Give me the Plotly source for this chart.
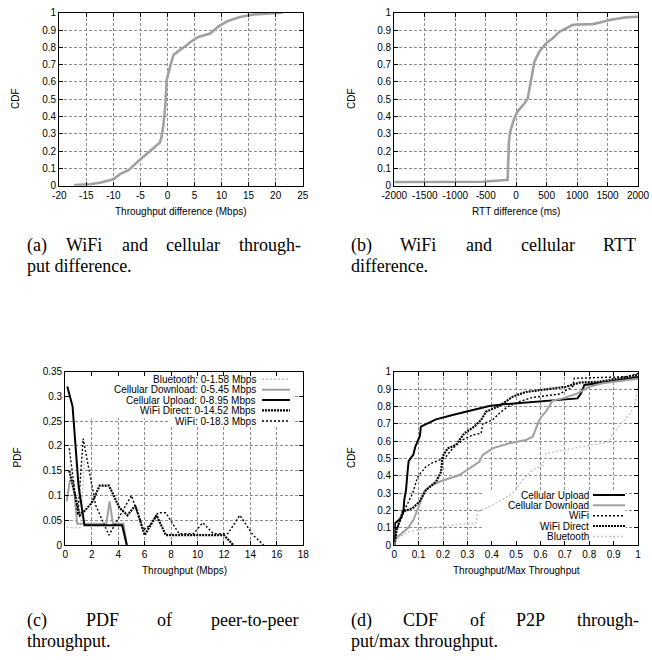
import plotly.graph_objects as go

# ---------------- data ----------------
# (a) WiFi - cellular throughput difference CDF
a_x = [-17.3, -14.3, -12.5, -10.0, -8.8, -7.2, -5.1, -3.2, -1.4, -1.1, -0.8, -0.4, -0.15, 0.5, 1.1, 2.3, 3.5, 4.2, 5.7, 7.9, 9.4, 11.0, 13.4, 15.9, 18.3, 21.3]
a_y = [0.004, 0.008, 0.017, 0.037, 0.067, 0.09, 0.15, 0.2, 0.25, 0.28, 0.34, 0.46, 0.61, 0.69, 0.755, 0.785, 0.81, 0.83, 0.86, 0.88, 0.92, 0.95, 0.975, 0.99, 0.995, 1.0]
a_ticks = [-20, -15, -10, -5, 0, 5, 10, 15, 20, 25]
a_ticktext = ["-20", "-15", "-10", "-5", "0", "5", "10", "15", "20", "25"]

# (b) WiFi - cellular RTT difference CDF
b_x = [-2000, -550, -167, -140, -120, -100, -30, 25, 135, 190, 245, 300, 380, 490, 600, 710, 930, 1255, 1365, 1530, 1800, 2000]
b_y = [0.021, 0.023, 0.033, 0.033, 0.245, 0.31, 0.39, 0.43, 0.475, 0.505, 0.61, 0.717, 0.775, 0.823, 0.852, 0.89, 0.93, 0.934, 0.942, 0.958, 0.973, 0.977]
b_ticks = [-2000, -1500, -1000, -500, 0, 500, 1000, 1500, 2000]
b_ticktext = ["-2000", "-1500", "-1000", "-500", "0", "500", "1000", "1500", "2000"]

# (c) PDF of peer-to-peer throughput
c_bt_x = [0.1, 0.45, 0.8, 1.15, 1.45]
c_bt_y = [0.035, 0.035, 0.035, 0.035, 0.17]
c_cd_x = [0.1, 0.35, 0.6, 0.9, 1.2, 3.1, 3.35, 3.6, 4.4, 4.65]
c_cd_y = [0.088, 0.13, 0.13, 0.043, 0.043, 0.043, 0.088, 0.043, 0.043, 0.0]
c_cu_x = [0.15, 0.55, 1.0, 1.45, 4.3, 4.65]
c_cu_y = [0.32, 0.28, 0.12, 0.04, 0.04, 0.0]
c_wd_x = [0.3, 1.1, 1.5, 2.0, 2.6, 3.3, 4.1, 4.7, 5.3, 6.0, 6.9, 7.6, 12.0, 12.7]
c_wd_y = [0.15, 0.06, 0.07, 0.085, 0.12, 0.12, 0.075, 0.06, 0.08, 0.02, 0.06, 0.02, 0.02, 0.0]
c_wf_x = [0.3, 0.95, 1.35, 2.3, 3.3, 5.0, 5.9, 6.4, 7.0, 7.6, 8.6, 9.7, 10.4, 11.2, 12.3, 13.2, 14.2, 15.0]
c_wf_y = [0.195, 0.06, 0.215, 0.08, 0.02, 0.1, 0.03, 0.04, 0.065, 0.065, 0.023, 0.023, 0.045, 0.023, 0.023, 0.06, 0.02, 0.0]
c_names = ["Bluetooth: 0-1.58 Mbps", "Cellular Download: 0-5.45 Mbps", "Cellular Upload: 0-8.95 Mbps",
           "WiFi Direct: 0-14.52 Mbps", "WiFi: 0-18.3 Mbps"]

# (d) CDF of P2P throughput / max throughput
d_cu_x = [0, 0.003, 0.027, 0.037, 0.041, 0.048, 0.055, 0.059, 0.072, 0.078, 0.086, 0.096, 0.105, 0.109, 0.13, 0.171, 0.239, 0.308, 0.39, 0.458, 0.54, 0.677, 0.752, 0.766, 0.78, 0.882, 0.951, 1.0]
d_cu_y = [0, 0.125, 0.154, 0.19, 0.26, 0.317, 0.43, 0.485, 0.51, 0.52, 0.567, 0.596, 0.629, 0.683, 0.696, 0.725, 0.75, 0.775, 0.802, 0.813, 0.821, 0.837, 0.846, 0.875, 0.923, 0.942, 0.956, 0.97]
d_cd_x = [0, 0.01, 0.055, 0.078, 0.092, 0.109, 0.123, 0.144, 0.185, 0.267, 0.321, 0.349, 0.362, 0.403, 0.472, 0.54, 0.568, 0.595, 0.609, 0.622, 0.65, 0.691, 0.746, 0.8, 0.855, 0.951, 1.0]
d_cd_y = [0, 0.044, 0.096, 0.144, 0.192, 0.26, 0.31, 0.337, 0.365, 0.404, 0.452, 0.48, 0.519, 0.558, 0.587, 0.606, 0.625, 0.721, 0.75, 0.77, 0.833, 0.846, 0.871, 0.913, 0.933, 0.948, 0.96]
d_wf_x = [0, 0.007, 0.02, 0.048, 0.075, 0.096, 0.13, 0.157, 0.185, 0.212, 0.24, 0.28, 0.321, 0.356, 0.363, 0.403, 0.431, 0.465, 0.513, 0.568, 0.677, 0.732, 0.739, 0.814, 0.951, 1.0]
d_wf_y = [0, 0.087, 0.125, 0.22, 0.298, 0.394, 0.452, 0.475, 0.49, 0.51, 0.558, 0.606, 0.635, 0.644, 0.698, 0.721, 0.76, 0.798, 0.827, 0.852, 0.871, 0.913, 0.962, 0.965, 0.971, 0.99]
d_wd_x = [0, 0.01, 0.034, 0.075, 0.103, 0.13, 0.171, 0.192, 0.198, 0.219, 0.253, 0.287, 0.328, 0.356, 0.376, 0.431, 0.486, 0.54, 0.622, 0.705, 0.759, 0.841, 0.923, 1.0]
d_wd_y = [0, 0.087, 0.192, 0.212, 0.25, 0.317, 0.365, 0.423, 0.51, 0.558, 0.577, 0.644, 0.683, 0.721, 0.769, 0.802, 0.856, 0.883, 0.898, 0.913, 0.937, 0.942, 0.962, 0.981]
d_bt_x = [0, 0.01, 0.062, 0.13, 0.267, 0.335, 0.342, 0.403, 0.486, 0.527, 0.568, 0.609, 0.622, 0.732, 0.882, 0.896, 0.951, 0.985, 1.0]
d_bt_y = [0, 0.038, 0.077, 0.096, 0.119, 0.125, 0.192, 0.231, 0.298, 0.375, 0.433, 0.462, 0.529, 0.558, 0.596, 0.644, 0.731, 0.798, 0.913]
d_names = ["Cellular Upload", "Cellular Download", "WiFi", "WiFi Direct", "Bluetooth"]

captions = [
    ["(a) WiFi and cellular through-", "put difference."],
    ["(b) WiFi and cellular RTT", "difference."],
    ["(c) PDF of peer-to-peer", "throughput."],
    ["(d) CDF of P2P through-", "put/max throughput."],
]

# ---------------- styles ----------------
W, H = 652, 660
GRAY = "#a0a0a0"
LGRAY = "#c4c4c4"
SANS = "Liberation Sans, Arial, sans-serif"
SERIF = "Liberation Serif, Times New Roman, serif"
sty = {
    "cu": dict(color="black", width=2.0, dash="solid"),
    "cd": dict(color=GRAY, width=2.0, dash="solid"),
    "wf": dict(color="black", width=1.4, dash="2px,2px"),
    "wd": dict(color="black", width=2.2, dash="2px,1px"),
    "bt": dict(color=LGRAY, width=1.4, dash="2px,2px"),
}

# Times New Roman advance widths (1/1000 em), used to justify caption lines
TW = {" ": 250, "(": 333, ")": 333, "-": 333, ".": 250, "/": 278, "2": 500,
      "a": 444, "b": 500, "c": 444, "d": 500, "e": 444, "f": 333, "g": 500, "h": 500, "i": 278,
      "l": 278, "m": 778, "n": 500, "o": 500, "p": 500, "r": 333, "s": 389, "t": 278, "u": 500,
      "x": 500, "y": 500, "C": 667, "D": 722, "F": 556, "P": 556, "R": 667, "T": 611, "W": 944}

def tw(s, size):
    return sum(TW.get(ch, 500) for ch in s) * size / 1000.0

def px_x(p):
    return p / W

def px_y(p):
    return 1 - p / H

fig = go.Figure()
fig.add_trace(go.Scatter(x=a_x, y=a_y, mode="lines", line=dict(color=GRAY, width=2.6), xaxis="x", yaxis="y", showlegend=False))
fig.add_trace(go.Scatter(x=b_x, y=b_y, mode="lines", line=dict(color=GRAY, width=2.6), xaxis="x2", yaxis="y2", showlegend=False))

for xs, ys, k in [(c_bt_x, c_bt_y, "bt"), (c_cd_x, c_cd_y, "cd"), (c_cu_x, c_cu_y, "cu"), (c_wd_x, c_wd_y, "wd"), (c_wf_x, c_wf_y, "wf")]:
    fig.add_trace(go.Scatter(x=xs, y=ys, mode="lines", line=sty[k], xaxis="x3", yaxis="y3", showlegend=False))
for xs, ys, k in [(d_cu_x, d_cu_y, "cu"), (d_cd_x, d_cd_y, "cd"), (d_wf_x, d_wf_y, "wf"), (d_wd_x, d_wd_y, "wd"), (d_bt_x, d_bt_y, "bt")]:
    fig.add_trace(go.Scatter(x=xs, y=ys, mode="lines", line=sty[k], xaxis="x4", yaxis="y4", showlegend=False))

ax_common = dict(showline=True, linecolor="black", linewidth=1.3, mirror="ticks", ticks="inside", ticklen=4,
                 tickcolor="black", tickwidth=1, showgrid=True, gridcolor="#8c8c8c", gridwidth=0.8, griddash="3px,2px",
                 zeroline=False, automargin=False, tickfont=dict(family=SANS, size=10, color="black"))
dom_x_left = [px_x(59.3), px_x(302.7)]
dom_x_right = [px_x(394.3), px_x(638)]
dom_x_c = [px_x(65.3), px_x(303.3)]
dom_y_top = [px_y(185.7), px_y(12.7)]
dom_y_bot = [px_y(545), px_y(371.7)]

fig.update_layout(
    xaxis=dict(ax_common, domain=dom_x_left, anchor="y", range=[-20, 25], tickvals=a_ticks, ticktext=a_ticktext),
    yaxis=dict(ax_common, domain=dom_y_top, anchor="x", range=[0, 1], dtick=0.1),
    xaxis2=dict(ax_common, domain=dom_x_right, anchor="y2", range=[-2000, 2000], tickvals=b_ticks, ticktext=b_ticktext),
    yaxis2=dict(ax_common, domain=dom_y_top, anchor="x2", range=[0, 1], dtick=0.1),
    xaxis3=dict(ax_common, domain=dom_x_c, anchor="y3", range=[0, 18], dtick=2),
    yaxis3=dict(ax_common, domain=dom_y_bot, anchor="x3", range=[0, 0.35], dtick=0.05),
    xaxis4=dict(ax_common, domain=dom_x_right, anchor="y4", range=[0, 1], dtick=0.1),
    yaxis4=dict(ax_common, domain=dom_y_bot, anchor="x4", range=[0, 1], dtick=0.1),
)

ann = []
shapes = []

def atitle(text, x, y, rot=0):
    ann.append(dict(text=text, x=px_x(x), y=px_y(y), xref="paper", yref="paper", showarrow=False,
                    textangle=rot, font=dict(family=SANS, size=10, color="black"), xanchor="center", yanchor="middle"))

atitle("Throughput difference (Mbps)", 181, 211.5)
atitle("CDF", 15, 99, -90)
atitle("RTT difference (ms)", 516, 211.5)
atitle("CDF", 351, 99, -90)
atitle("Throughput (Mbps)", 184, 570.5)
atitle("PDF", 16.5, 458, -90)
atitle("Throughput/Max Throughput", 516, 570.5)
atitle("CDF", 351, 458, -90)

shapes.append(dict(type="rect", xref="x3", yref="y3", x0=0.05, x1=17.2, y0=0.256, y1=0.349, fillcolor="white", line=dict(width=0), layer="between"))
shapes.append(dict(type="rect", xref="x3", yref="y3", x0=7.9, x1=17.2, y0=0.242, y1=0.256, fillcolor="white", line=dict(width=0), layer="between"))
shapes.append(dict(type="rect", xref="x4", yref="y4", x0=0.3625, x1=0.948, y0=0.003, y1=0.315, fillcolor="white", line=dict(width=0), layer="between"))

def legend(names, keys, xr, ys, s0, s1):
    for nm, k, yy in zip(names, keys, ys):
        ann.append(dict(text=nm, x=px_x(xr), y=px_y(yy), xref="paper", yref="paper", showarrow=False,
                        borderpad=0, font=dict(family=SANS, size=10, color="black"), xanchor="right", yanchor="middle"))
        shapes.append(dict(type="line", xref="paper", yref="paper", x0=px_x(s0), x1=px_x(s1), y0=px_y(yy), y1=px_y(yy),
                           line=sty[k], layer="above"))

legend(c_names, ["bt", "cd", "cu", "wd", "wf"], 257, [379.3, 389.7, 400.0, 410.3, 421.0], 262, 290)
legend(d_names, ["cu", "cd", "wf", "wd", "bt"], 590.3, [495, 505.3, 515.7, 526, 536.5], 593, 625)

CAP_SIZE = 18
cap_geom = [(26, 300, 245, 266), (350, 636, 245, 266), (26, 298, 620, 641), (350, 638, 620, 641)]
for (l1, l2), (L, R, y1, y2) in zip(captions, cap_geom):
    words = l1.split(" ")
    widths = [tw(w, CAP_SIZE) for w in words]
    gap = (R - L - sum(widths)) / (len(words) - 1)
    x = L
    for w, wd in zip(words, widths):
        ann.append(dict(text=w, x=px_x(x), y=px_y(y1), xref="paper", yref="paper", showarrow=False, borderpad=0,
                        font=dict(family=SERIF, size=CAP_SIZE, color="black"), xanchor="left", yanchor="middle"))
        x += wd + gap
    ann.append(dict(text=l2, x=px_x(L), y=px_y(y2), xref="paper", yref="paper", showarrow=False, borderpad=0,
                    font=dict(family=SERIF, size=CAP_SIZE, color="black"), xanchor="left", yanchor="middle"))

fig.update_layout(width=W, height=H, margin=dict(l=0, r=0, t=0, b=0, autoexpand=False), paper_bgcolor="white",
                  plot_bgcolor="white", annotations=ann, shapes=shapes, showlegend=False)
fig.write_html("out.html", config={"displayModeBar": False},
               post_script="document.body.style.margin='0px';document.body.style.overflow='hidden';")
